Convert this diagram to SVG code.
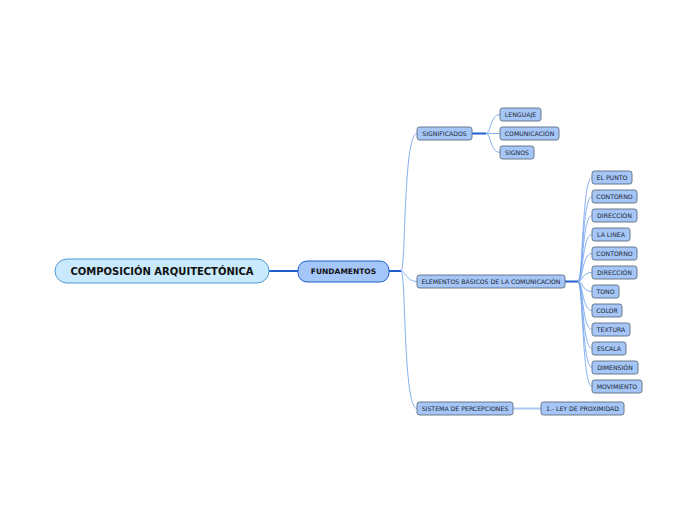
<svg xmlns="http://www.w3.org/2000/svg" width="697" height="520" viewBox="0 0 697 520">
<style>
.n rect{fill:#a5c6f7;stroke:#5d6b7e;stroke-width:0.9}
.n text{font-family:"DejaVu Sans",Verdana,sans-serif;font-size:6.2px;fill:#1c2633;text-anchor:middle}
.c{fill:none;stroke:#7aa7ee;stroke-width:0.9}
.t{fill:none;stroke:#1f5fcc;stroke-width:2}
</style>
<rect width="697" height="520" fill="#ffffff"/>
<g id="connectors">
<line class="t" x1="269" y1="271" x2="298" y2="271"/>
<line class="t" x1="389" y1="271" x2="401" y2="271"/>
<path class="c" d="M401,271 C406,271 403,133.5 417,133.5"/>
<path class="c" d="M401,271 C406,271 406,281.5 417,281.5"/>
<path class="c" d="M401,271 C406,271 403,408.5 417,408.5"/>
<line class="t" x1="472" y1="133.5" x2="486" y2="133.5"/>
<path class="c" d="M486,133.5 C491,133.5 490,114.5 500,114.5"/>
<path class="c" d="M486,133.5 L500,133.5"/>
<path class="c" d="M486,133.5 C491,133.5 490,152.5 500,152.5"/>
<line class="t" x1="565" y1="281.5" x2="578" y2="281.5"/>
<path class="c" d="M578,281.5 C583,281.5 582,177.5 592,177.5"/>
<path class="c" d="M578,281.5 C583,281.5 582,196.5 592,196.5"/>
<path class="c" d="M578,281.5 C583,281.5 582,215.5 592,215.5"/>
<path class="c" d="M578,281.5 C583,281.5 582,234.5 592,234.5"/>
<path class="c" d="M578,281.5 C583,281.5 582,253.5 592,253.5"/>
<path class="c" d="M578,281.5 C583,281.5 582,272.5 592,272.5"/>
<path class="c" d="M578,281.5 C583,281.5 582,291.5 592,291.5"/>
<path class="c" d="M578,281.5 C583,281.5 582,310.5 592,310.5"/>
<path class="c" d="M578,281.5 C583,281.5 582,329.5 592,329.5"/>
<path class="c" d="M578,281.5 C583,281.5 582,348.5 592,348.5"/>
<path class="c" d="M578,281.5 C583,281.5 582,367.5 592,367.5"/>
<path class="c" d="M578,281.5 C583,281.5 582,386.5 592,386.5"/>
<line x1="513" y1="408.5" x2="541" y2="408.5" stroke="#a9c8f2" stroke-width="2"/>
</g>
<g id="root">
<rect x="55" y="259" width="214" height="24" rx="12" fill="#c8eafc" stroke="#4f9ad6" stroke-width="1"/>
<text x="162" y="274.6" font-family="DejaVu Sans,Verdana,sans-serif" font-size="10" font-weight="bold" fill="#111" text-anchor="middle">COMPOSICIÓN ARQUITECTÓNICA</text>
</g>
<g id="fundamentos">
<rect x="298" y="261" width="91" height="21" rx="9" fill="#a5c6f8" stroke="#1f5fcc" stroke-width="1"/>
<text x="343.5" y="274.3" font-family="DejaVu Sans,Verdana,sans-serif" font-size="7.5" font-weight="bold" fill="#111" text-anchor="middle">FUNDAMENTOS</text>
</g>
<g id="significados" class="n"><rect x="417" y="127" width="55" height="13" rx="2.5"/><text x="444.5" y="135.8">SIGNIFICADOS</text></g>
<g id="lenguaje" class="n"><rect x="500" y="108" width="41" height="13" rx="2.5"/><text x="520.5" y="116.8">LENGUAJE</text></g>
<g id="comunicacion" class="n"><rect x="500" y="127" width="59" height="13" rx="2.5"/><text x="529.5" y="135.8">COMUNICACIÓN</text></g>
<g id="signos" class="n"><rect x="500" y="146" width="34" height="13" rx="2.5"/><text x="517" y="154.8">SIGNOS</text></g>
<g id="elementos" class="n"><rect x="417" y="275" width="148" height="13" rx="2.5"/><text x="491" y="283.8">ELEMENTOS BÁSICOS DE LA COMUNICACIÓN</text></g>
<g id="elpunto" class="n"><rect x="592" y="171" width="40" height="13" rx="2.5"/><text x="612" y="179.8">EL PUNTO</text></g>
<g id="contorno1" class="n"><rect x="592" y="190" width="45" height="13" rx="2.5"/><text x="614.5" y="198.8">CONTORNO</text></g>
<g id="direccion1" class="n"><rect x="592" y="209" width="45" height="13" rx="2.5"/><text x="614.5" y="217.8">DIRECCIÓN</text></g>
<g id="lalinea" class="n"><rect x="592" y="228" width="38" height="13" rx="2.5"/><text x="611" y="236.8">LA LINEA</text></g>
<g id="contorno2" class="n"><rect x="592" y="247" width="45" height="13" rx="2.5"/><text x="614.5" y="255.8">CONTORNO</text></g>
<g id="direccion2" class="n"><rect x="592" y="266" width="45" height="13" rx="2.5"/><text x="614.5" y="274.8">DIRECCIÓN</text></g>
<g id="tono" class="n"><rect x="592" y="285" width="27" height="13" rx="2.5"/><text x="605.5" y="293.8">TONO</text></g>
<g id="color" class="n"><rect x="592" y="304" width="30" height="13" rx="2.5"/><text x="607" y="312.8">COLOR</text></g>
<g id="textura" class="n"><rect x="592" y="323" width="38" height="13" rx="2.5"/><text x="611" y="331.8">TEXTURA</text></g>
<g id="escala" class="n"><rect x="592" y="342" width="34" height="13" rx="2.5"/><text x="609" y="350.8">ESCALA</text></g>
<g id="dimension" class="n"><rect x="592" y="361" width="46" height="13" rx="2.5"/><text x="615" y="369.8">DIMENSIÓN</text></g>
<g id="movimiento" class="n"><rect x="592" y="380" width="50" height="13" rx="2.5"/><text x="617" y="388.8">MOVIMIENTO</text></g>
<g id="sistema" class="n"><rect x="417" y="402" width="96" height="13" rx="2.5"/><text x="465" y="410.8">SISTEMA DE PERCEPCIONES</text></g>
<g id="ley" class="n"><rect x="541" y="402" width="83" height="13" rx="2.5"/><text x="582.5" y="410.8">1.- LEY DE PROXIMIDAD</text></g>
</svg>
